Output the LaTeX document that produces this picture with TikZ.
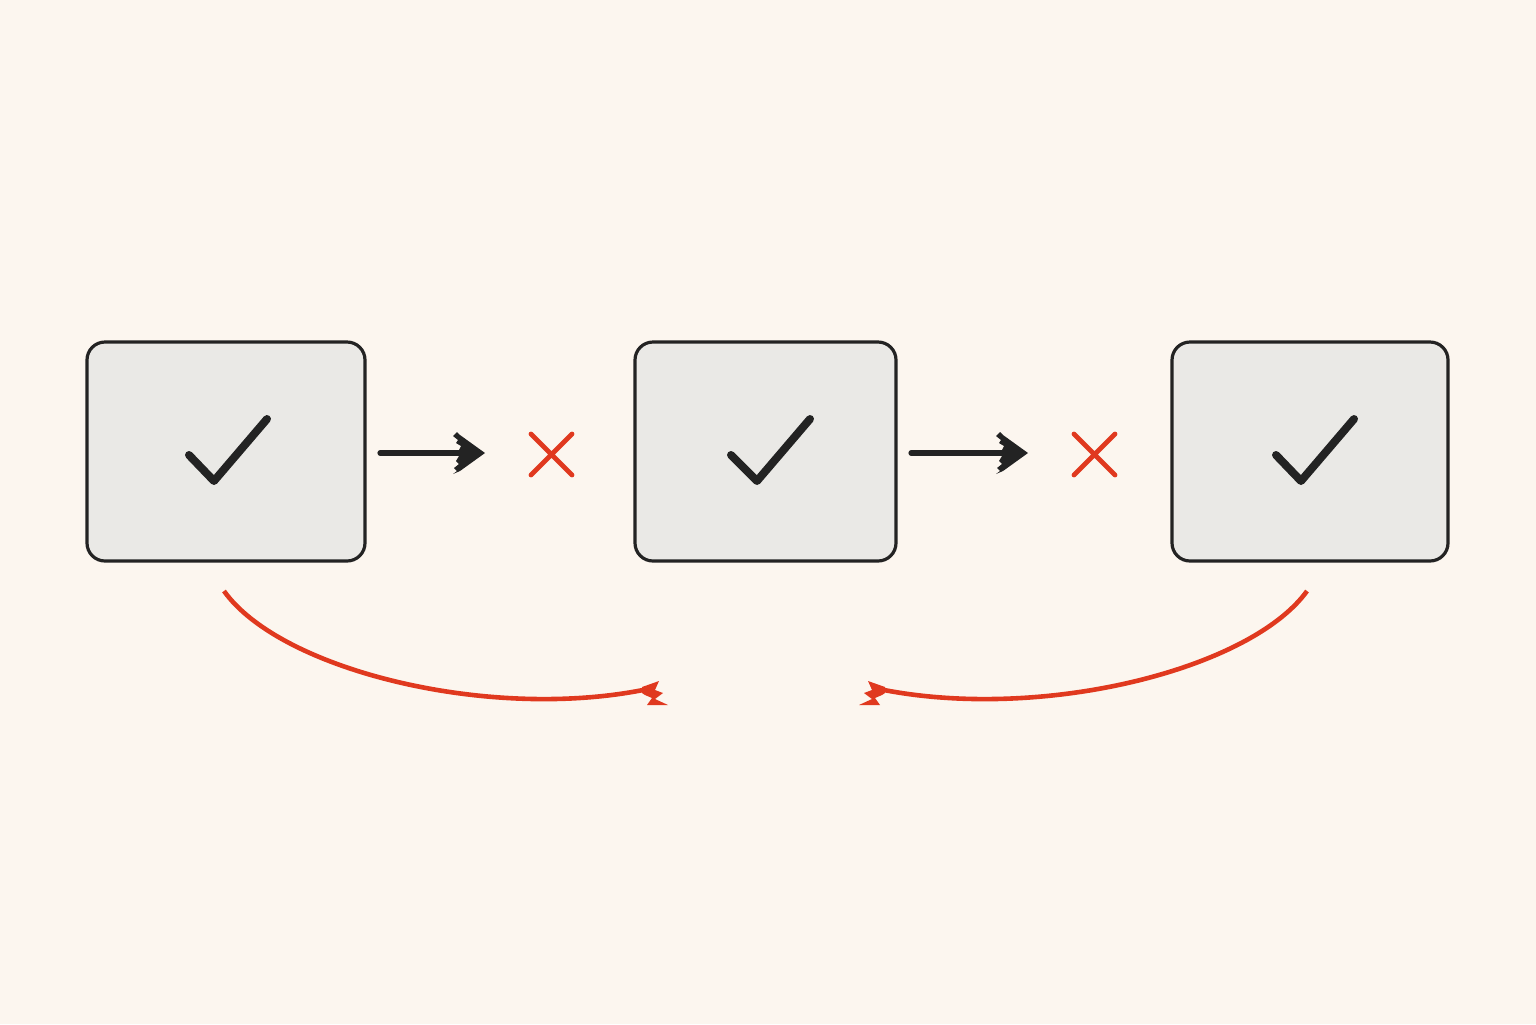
\documentclass[tikz,border=0pt]{standalone}
\begin{document}
\begin{tikzpicture}[x=0.5pt,y=-0.5pt,
  box/.style={draw=ink,fill=boxfill,line width=1.6pt,rounded corners=9pt,minimum height=109.5pt,inner sep=0pt},
  tick/.style={draw=ink,line width=4pt,line cap=round,line join=round},
  shaft/.style={draw=ink,line width=2.6pt,line cap=round},
  cross/.style={draw=redc,line width=2.4pt,line cap=round},
  redline/.style={draw=redc,line width=2.3pt},
  zhead/.pic={\fill[ink] (0,0) -- (-25,-18) -- (-28,-21) -- (-32,-17) -- (-27,-13) -- (-29,-10) -- (-24,-7) -- (-26,-3) -- (-26,3) -- (-29,8) -- (-26,11) -- (-31,15) -- (-28,18) -- (-32,21) -- (-25,18) -- cycle;}
]
\definecolor{ink}{HTML}{232323}
\definecolor{boxfill}{HTML}{EAE9E6}
\definecolor{redc}{HTML}{E0391F}
\definecolor{bg}{HTML}{FCF6EF}
\fill[bg] (0,0) rectangle (1536,1024);
\useasboundingbox (0,0) rectangle (1536,1024);

\node[box,minimum width=139pt] (b1) at (226,451.5) {};
\node[box,minimum width=130.5pt] (b2) at (765.5,451.5) {};
\node[box,minimum width=138pt] (b3) at (1310,451.5) {};

\draw[tick] (189,455) -- (214,481) -- (267,419);
\draw[tick] (731,455) -- (757,481) -- (810,419);
\draw[tick] (1276,455) -- (1301,481) -- (1354,419);

\coordinate (a1s) at (380,453);
\coordinate (a1e) at (485,453);
\coordinate (a2s) at (911,453);
\coordinate (a2e) at (1028,453);
\draw[shaft] (a1s) -- ([xshift=-12]a1e);
\pic at (a1e) {zhead};
\draw[shaft] (a2s) -- ([xshift=-12]a2e);
\pic at (a2e) {zhead};

\draw[cross] (531,434) -- (572,475) (531,475) -- (572,434);
\draw[cross] (1074,434) -- (1115,475) (1074,475) -- (1115,434);

\coordinate (c1s) at (224,591);
\coordinate (c1e) at (648,689);
\coordinate (c2s) at (1307,591);
\coordinate (c2e) at (879,689);
\draw[redline] (c1s) .. controls (280,670) and (490,722) .. (c1e);
\draw[redline] (c2s) .. controls (1250,670) and (1040,722) .. (c2e);
\fill[redc] (642,687) -- (659,681) -- (655,690) -- (663,693) -- (655,699) -- (668,705) -- (647,705) -- (652,698) -- (645,695) -- (642,693) -- cycle;
\fill[redc] (885,687) -- (868,681) -- (872,690) -- (864,693) -- (872,699) -- (859,705) -- (880,705) -- (875,698) -- (882,695) -- (885,693) -- cycle;
\end{tikzpicture}
\end{document}
